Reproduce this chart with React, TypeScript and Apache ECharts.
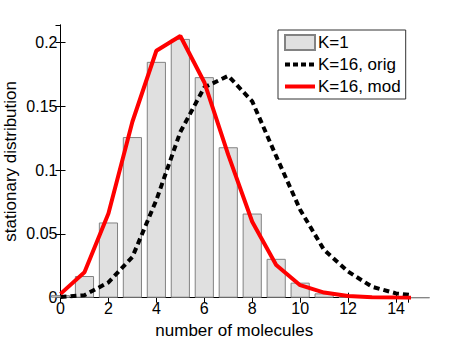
import React, { useEffect, useRef } from "react";
import * as echarts from "echarts";

const molecules = [0, 1, 2, 3, 4, 5, 6, 7, 8, 9, 10, 11, 12, 13, 14, 15];
const k1Bars = [0.002, 0.017, 0.059, 0.126, 0.185, 0.203, 0.173, 0.118, 0.066, 0.0305, 0.0118, 0.0034, 0.001, 0.0003, 0.0001, 0];
const k16Orig = [0.0005, 0.002, 0.012, 0.032, 0.0766, 0.13, 0.165, 0.174, 0.154, 0.111, 0.069, 0.0374, 0.0205, 0.0086, 0.0034, 0.0013];
const k16Mod = [0.003, 0.02, 0.066, 0.138, 0.1937, 0.2053, 0.169, 0.112, 0.0596, 0.0256, 0.0098, 0.004, 0.0013, 0.0004, 0.0001, 0];
const seriesNames = ["K=1", "K=16, orig", "K=16, mod"];
const xTicks = [0, 2, 4, 6, 8, 10, 12, 14];
const yTicks = [0, 0.05, 0.1, 0.15, 0.2];

const FONT = "Liberation Sans";

export default function App() {
  const ref = useRef<HTMLDivElement>(null);
  useEffect(() => {
    if (!ref.current) return;
    const chart = echarts.init(ref.current, undefined, { renderer: "svg" });
    const pairs = (ys: number[]) => molecules.map((x, i) => [x, ys[i]]);
    const fmtY = (v: number) => {
      const r = +v.toFixed(3);
      return yTicks.some((t) => Math.abs(t - r) < 1e-9) ? String(r) : "";
    };
    const fmtX = (v: number) => (xTicks.includes(v) ? String(v) : "");
    const tickStyle = { show: true, inside: true, length: 5, lineStyle: { color: "#000", width: 1 } };
    const hiddenSymbol = { color: "rgba(0,0,0,0)", borderWidth: 0, opacity: 0 };
    chart.setOption({
      animation: false,
      backgroundColor: "#fff",
      textStyle: { fontFamily: FONT },
      grid: { left: 60.5, right: 43, top: 25, bottom: 41.3, containLabel: false, outerBoundsMode: "none" },
      legend: {
        orient: "vertical",
        left: 278,
        top: 30,
        padding: [4, 5, 4, 5],
        itemGap: 5,
        itemWidth: 30,
        itemHeight: 15,
        backgroundColor: "#fff",
        borderColor: "#333",
        borderWidth: 1,
        borderRadius: 0,
        textStyle: { fontFamily: FONT, fontSize: 17, color: "#000", padding: [0, 0, 0, -2] },
        data: [
          { name: seriesNames[0], icon: "rect" },
          { name: seriesNames[1], itemStyle: hiddenSymbol, lineStyle: { width: 4, color: "#000", type: [5, 3] } },
          { name: seriesNames[2], itemStyle: hiddenSymbol, lineStyle: { width: 4, color: "#ff0000" } },
        ],
      },
      xAxis: [
        {
          type: "value",
          min: 0,
          max: 14.5,
          interval: 2,
          name: "number of molecules",
          nameLocation: "middle",
          nameGap: 17,
          nameTextStyle: { fontFamily: FONT, fontSize: 17, color: "#000" },
          axisLine: { show: true, lineStyle: { color: "#000", width: 1 } },
          axisTick: tickStyle,
          splitLine: { show: false },
          axisLabel: { fontFamily: FONT, fontSize: 16, color: "#000", margin: 3, formatter: fmtX, showMaxLabel: false },
        },
        {
          type: "value",
          position: "top",
          min: 0,
          max: 14.5,
          interval: 2,
          axisLine: { show: true, lineStyle: { color: "#000", width: 1 } },
          axisTick: tickStyle,
          splitLine: { show: false },
          axisLabel: { show: false },
        },
      ],
      yAxis: [
        {
          type: "value",
          min: 0,
          max: 0.2139,
          interval: 0.05,
          name: "stationary distribution",
          nameLocation: "middle",
          nameGap: 42,
          nameMoveOverlap: false,
          nameTextStyle: { fontFamily: FONT, fontSize: 17, color: "#000" },
          axisLine: { show: true, lineStyle: { color: "#000", width: 1 } },
          axisTick: tickStyle,
          splitLine: { show: false },
          axisLabel: { fontFamily: FONT, fontSize: 16, color: "#000", margin: 3, formatter: fmtY, showMaxLabel: false },
        },
        {
          type: "value",
          position: "right",
          min: 0,
          max: 0.2139,
          interval: 0.05,
          axisLine: { show: true, lineStyle: { color: "#000", width: 1 } },
          axisTick: tickStyle,
          splitLine: { show: false },
          axisLabel: { show: false },
        },
      ],
      series: [
        {
          name: seriesNames[0],
          type: "bar",
          data: pairs(k1Bars),
          barWidth: "80%",
          clip: true,
          itemStyle: { color: "#e0e0e0", borderColor: "#828282", borderWidth: 1 },
        },
        {
          name: seriesNames[1],
          type: "line",
          data: pairs(k16Orig),
          symbol: "none",
          clip: true,
          lineStyle: { color: "#000", width: 4, type: [6, 4] },
          itemStyle: { color: "#000" },
        },
        {
          name: seriesNames[2],
          type: "line",
          data: pairs(k16Mod),
          symbol: "none",
          clip: true,
          lineStyle: { color: "#ff0000", width: 4 },
          itemStyle: { color: "#ff0000" },
        },
      ],
    });
    return () => chart.dispose();
  }, []);
  return <div ref={ref} style={{ width: 451, height: 339, position: "absolute", left: 0, top: 0 }} />;
}
